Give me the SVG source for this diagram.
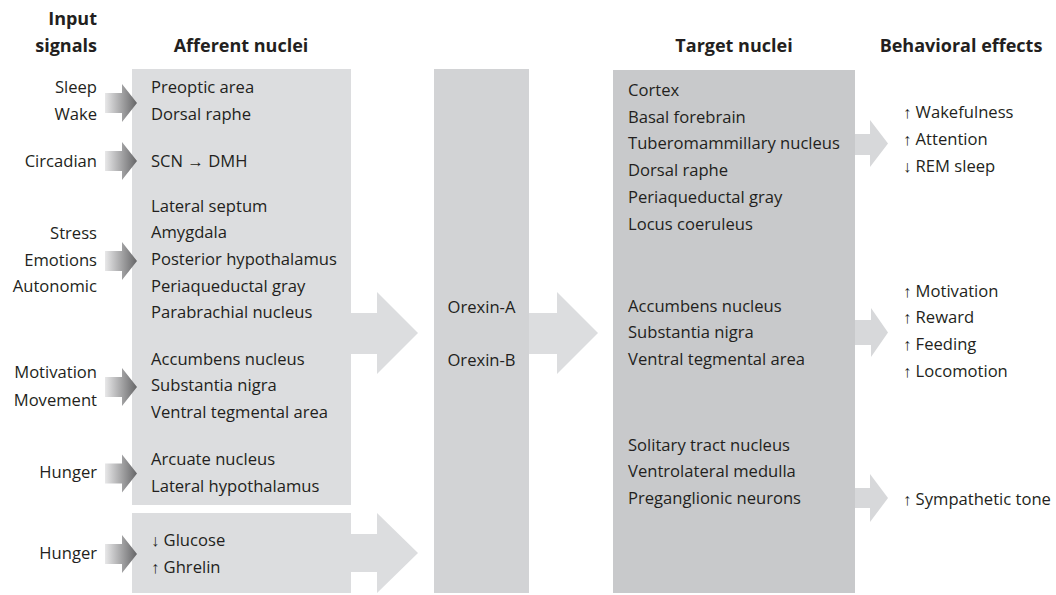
<svg xmlns="http://www.w3.org/2000/svg" width="1056" height="595" viewBox="0 0 1056 595">
<defs>
<linearGradient id="inGrad" x1="0" y1="0" x2="1" y2="0">
<stop offset="0" stop-color="#e8e8e9"/>
<stop offset="1" stop-color="#656567"/>
</linearGradient>
<style>
text{font-family:"Open Sans","Liberation Sans",sans-serif;font-size:16.6px;fill:#231f20}
.h{font-weight:bold;font-size:18px}
.r{text-anchor:end}
.m{text-anchor:middle}
.aff{fill:#dcdddf}
.orx{fill:#d2d3d5}
.tgt{fill:#c8c9cb}
.big{fill:#dcdddf}
.out{fill:#d7d8da}
.in{fill:url(#inGrad)}
</style>
</defs>
<rect width="1056" height="595" fill="#ffffff"/>

<g id="headers">
<text class="h r" x="97" y="25">Input</text>
<text class="h r" x="97" y="52">signals</text>
<text class="h m" x="241" y="52">Afferent nuclei</text>
<text class="h m" x="734" y="52">Target nuclei</text>
<text class="h m" x="961" y="52">Behavioral effects</text>
</g>

<g id="afferent-main">
<rect class="aff" x="132" y="69" width="219" height="436"/>
<text x="151" y="93">Preoptic area</text>
<text x="151" y="120">Dorsal raphe</text>
<text x="151" y="166.5">SCN → DMH</text>
<text x="151" y="211.5">Lateral septum</text>
<text x="151" y="238.2">Amygdala</text>
<text x="151" y="264.9">Posterior hypothalamus</text>
<text x="151" y="291.6">Periaqueductal gray</text>
<text x="151" y="318.3">Parabrachial nucleus</text>
<text x="151" y="364.7">Accumbens nucleus</text>
<text x="151" y="391.3">Substantia nigra</text>
<text x="151" y="418">Ventral tegmental area</text>
<text x="151" y="464.8">Arcuate nucleus</text>
<text x="151" y="491.5">Lateral hypothalamus</text>
</g>

<g id="afferent-metabolic">
<rect class="aff" x="132" y="513" width="219" height="80"/>
<text x="151" y="545.5">↓ Glucose</text>
<text x="151" y="572.5">↑ Ghrelin</text>
</g>

<g id="orexin">
<rect class="orx" x="434" y="69" width="95" height="524"/>
<text class="m" x="481.5" y="312.5">Orexin-A</text>
<text class="m" x="481.5" y="366">Orexin-B</text>
</g>

<g id="target">
<rect class="tgt" x="613" y="70" width="242" height="523"/>
<text x="628" y="96">Cortex</text>
<text x="628" y="122.7">Basal forebrain</text>
<text x="628" y="149.4">Tuberomammillary nucleus</text>
<text x="628" y="176.1">Dorsal raphe</text>
<text x="628" y="202.8">Periaqueductal gray</text>
<text x="628" y="229.5">Locus coeruleus</text>
<text x="628" y="311.7">Accumbens nucleus</text>
<text x="628" y="338.3">Substantia nigra</text>
<text x="628" y="365">Ventral tegmental area</text>
<text x="628" y="450.5">Solitary tract nucleus</text>
<text x="628" y="477">Ventrolateral medulla</text>
<text x="628" y="503.5">Preganglionic neurons</text>
</g>

<g id="inputs">
<text class="r" x="97" y="93">Sleep</text>
<text class="r" x="97" y="120">Wake</text>
<text class="r" x="97" y="166.5">Circadian</text>
<text class="r" x="97" y="239">Stress</text>
<text class="r" x="97" y="265.7">Emotions</text>
<text class="r" x="97" y="292.4">Autonomic</text>
<text class="r" x="97" y="378.3">Motivation</text>
<text class="r" x="97" y="405.5">Movement</text>
<text class="r" x="97" y="477.5">Hunger</text>
<text class="r" x="97" y="558.5">Hunger</text>
</g>

<g id="effects">
<text x="903" y="118.3">↑ Wakefulness</text>
<text x="903" y="145">↑ Attention</text>
<text x="903" y="171.7">↓ REM sleep</text>
<text x="903" y="296.7">↑ Motivation</text>
<text x="903" y="323.4">↑ Reward</text>
<text x="903" y="350.1">↑ Feeding</text>
<text x="903" y="376.8">↑ Locomotion</text>
<text x="903" y="505">↑ Sympathetic tone</text>
</g>

<g id="connectors">
<path class="in" d="M105,93 H122 V84 L137,103 L122,122 V113 H105 Z"/>
<path class="in" d="M105,151 H122 V142 L137,161 L122,180 V171 H105 Z"/>
<path class="in" d="M105,251 H122 V242 L137,261 L122,280 V271 H105 Z"/>
<path class="in" d="M105,377 H122 V368 L137,387 L122,406 V397 H105 Z"/>
<path class="in" d="M105,463.5 H122 V454.5 L137,473.5 L122,492.5 V483.5 H105 Z"/>
<path class="in" d="M105,544 H122 V535 L137,554 L122,573 V564 H105 Z"/>
<path class="big" d="M351,313 H377 V292 L418,333 L377,374 V354 H351 Z"/>
<path class="big" d="M351,534 H377 V513 L418,553 L377,593 V572 H351 Z"/>
<path class="big" d="M529,313 H557 V292 L598,333 L557,374 V354 H529 Z"/>
<path class="out" d="M855,134 H870 V120 L888,143.5 L870,167 V155 H855 Z"/>
<path class="out" d="M855,320 H871 V308 L888,332.5 L871,357 V345 H855 Z"/>
<path class="out" d="M855,488 H870 V474 L888,498 L870,522 V508 H855 Z"/>
</g>
</svg>
